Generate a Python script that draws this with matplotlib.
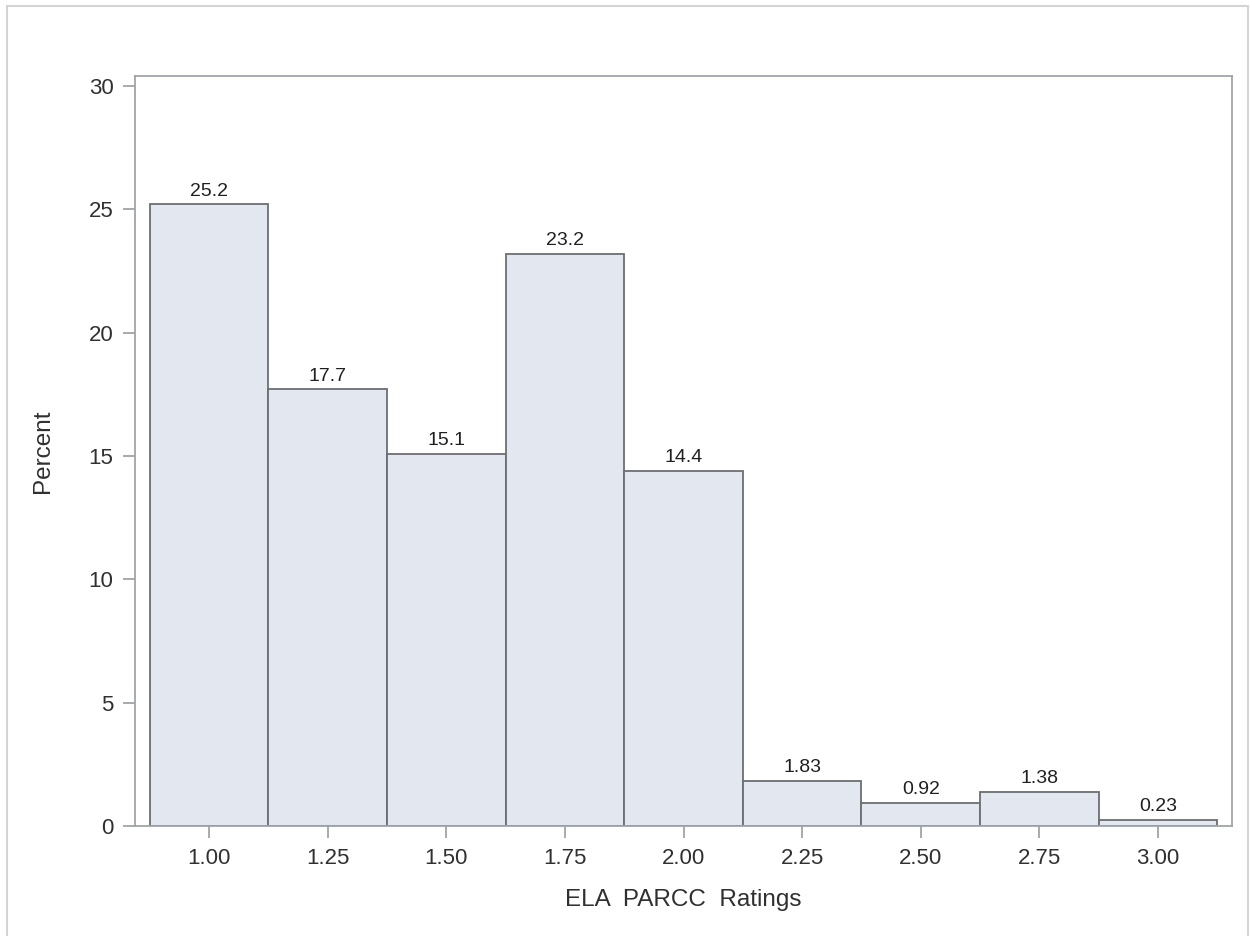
import matplotlib
matplotlib.use("Agg")
from matplotlib import pyplot as plt
from matplotlib.patches import Rectangle

# histogram bins (midpoints) and percents
midpoints = [1.00, 1.25, 1.50, 1.75, 2.00, 2.25, 2.50, 2.75, 3.00]
percents = [25.2, 17.7, 15.1, 23.2, 14.4, 1.83, 0.92, 1.38, 0.23]
bar_labels = ["25.2", "17.7", "15.1", "23.2", "14.4", "1.83", "0.92", "1.38", "0.23"]
x_ticks = [1.00, 1.25, 1.50, 1.75, 2.00, 2.25, 2.50, 2.75, 3.00]
y_ticks = [0, 5, 10, 15, 20, 25, 30]

plt.rcParams['font.family'] = ['Liberation Sans', 'DejaVu Sans']

fig = plt.figure(figsize=(12.5, 9.36), dpi=100)
ax = fig.add_axes([0.108, 0.1175, 0.8776, 0.8013])

# light frame round the whole graph
fig.patches.append(Rectangle((7 / 1250, -0.1), 1241 / 1250, 1.1 - 6 / 936,
                             transform=fig.transFigure, fill=False,
                             edgecolor='#d4d4d4', linewidth=1.5))

ax.bar(midpoints, percents, width=0.25, color='#e3e7f0',
       edgecolor='#6b6e72', linewidth=1.3, zorder=2)

for x, y, s in zip(midpoints, percents, bar_labels):
    ax.annotate(s, (x, y), xytext=(0, 3.5), textcoords='offset points',
                ha='center', va='bottom', fontsize=14, color='#202020')

ax.set_xlim(0.844, 3.156)
ax.set_ylim(0, 30.41)
ax.set_xticks(x_ticks)
ax.set_xticklabels([f'{t:.2f}' for t in x_ticks])
ax.set_yticks(y_ticks)

for sp in ax.spines.values():
    sp.set_color('#a0a4a8')
    sp.set_linewidth(1.3)

ax.tick_params(axis='both', colors='#a0a4a8', labelcolor='#303030',
               labelsize=16, length=8.5, width=1.3)
ax.tick_params(axis='x', pad=7.5)
ax.tick_params(axis='y', pad=7)

ax.set_xlabel('ELA  PARCC  Ratings', fontsize=17.5, color='#303030')
ax.set_ylabel('Percent', fontsize=17.5, color='#303030')
ax.xaxis.set_label_coords(0.5, -0.0987)
ax.xaxis.label.set_va('center')
ax.yaxis.set_label_coords(-0.084, 0.5)
ax.yaxis.label.set_va('center')

fig.savefig('out.png', dpi=100)
